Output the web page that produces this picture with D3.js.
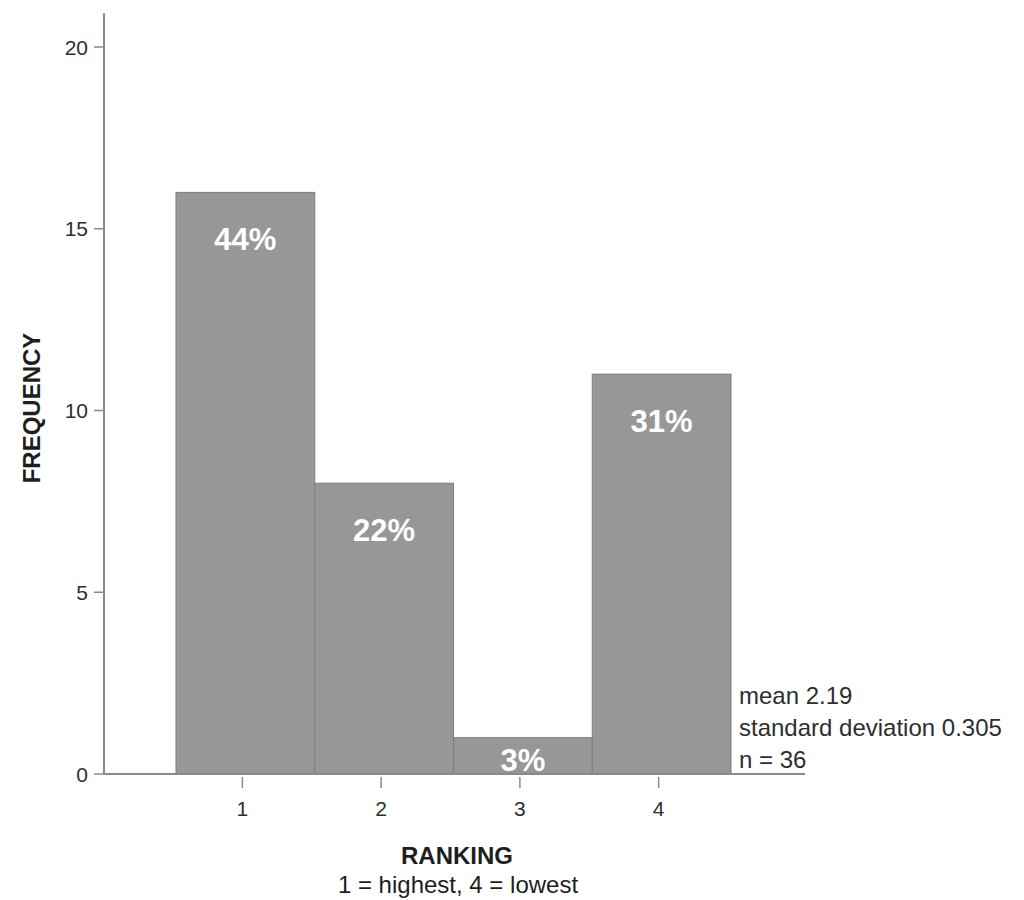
<!DOCTYPE html>
<html>
<head>
<meta charset="utf-8">
<script src="https://cdn.jsdelivr.net/npm/d3@7"></script>
<style>
  html, body { margin: 0; padding: 0; background: #fff; }
  svg { display: block; font-family: "Liberation Sans", Arial, sans-serif; }
</style>
</head>
<body>
<script>
const rankings = [1, 2, 3, 4];
const frequencies = [16, 8, 1, 11];
const percentLabels = ["44%", "22%", "3%", "31%"];
const yTicks = [0, 5, 10, 15, 20];
const statsLines = ["mean 2.19", "standard deviation 0.305", "n = 36"];

const W = 1024, H = 900;
const svg = d3.select("body").append("svg").attr("width", W).attr("height", H);

const x = d3.scaleLinear().domain([0.5, 4.5]).range([176, 731]);
const y = d3.scaleLinear().domain([0, 20]).range([774, 47]);

const axisColor = "#8a8a8a";
const textColor = "#2e2e2e";

// bars
svg.selectAll("rect.bar").data(rankings).enter().append("rect")
  .attr("class", "bar")
  .attr("x", d => x(d - 0.5))
  .attr("width", d => x(d + 0.5) - x(d - 0.5))
  .attr("y", (d, i) => y(frequencies[i]))
  .attr("height", (d, i) => y(0) - y(frequencies[i]))
  .attr("fill", "#979797")
  .attr("stroke", "#7d7d7d")
  .attr("stroke-width", 1);

// percent labels
svg.selectAll("text.pct").data(rankings).enter().append("text")
  .attr("class", "pct")
  .attr("x", d => x(d))
  .attr("y", (d, i) => Math.min(y(frequencies[i]) + 47, y(0) - 14))
  .attr("text-anchor", "middle")
  .attr("dominant-baseline", "central")
  .attr("fill", "#fff")
  .attr("font-size", 31)
  .attr("font-weight", "bold")
  .text((d, i) => percentLabels[i]);

// y axis
const yAxis = svg.append("g");
yAxis.append("line").attr("x1", 104).attr("x2", 104).attr("y1", 13).attr("y2", y(0))
  .attr("stroke", axisColor).attr("stroke-width", 2);
yAxis.selectAll("line.tick").data(yTicks).enter().append("line")
  .attr("x1", 94).attr("x2", 104).attr("y1", d => y(d)).attr("y2", d => y(d))
  .attr("stroke", axisColor).attr("stroke-width", 1.5);
yAxis.selectAll("text").data(yTicks).enter().append("text")
  .attr("x", 88).attr("y", d => y(d))
  .attr("text-anchor", "end").attr("dominant-baseline", "central")
  .attr("font-size", 21).attr("fill", textColor)
  .text(d => d);

// x axis
const xAxis = svg.append("g");
xAxis.append("line").attr("x1", 104).attr("x2", 805).attr("y1", y(0)).attr("y2", y(0))
  .attr("stroke", axisColor).attr("stroke-width", 2);
xAxis.selectAll("line.tick").data(rankings).enter().append("line")
  .attr("x1", d => x(d) - 3).attr("x2", d => x(d) - 3).attr("y1", 777).attr("y2", 788)
  .attr("stroke", axisColor).attr("stroke-width", 1.5);
xAxis.selectAll("text").data(rankings).enter().append("text")
  .attr("x", d => x(d) - 3).attr("y", 808)
  .attr("text-anchor", "middle").attr("dominant-baseline", "central")
  .attr("font-size", 21).attr("fill", textColor)
  .text(d => d);

// axis titles
svg.append("text")
  .attr("transform", "translate(31,408) rotate(-90)")
  .attr("text-anchor", "middle").attr("dominant-baseline", "central")
  .attr("font-size", 24).attr("font-weight", "bold").attr("fill", "#1e1e1e")
  .text("FREQUENCY");
svg.append("text")
  .attr("x", 457).attr("y", 855)
  .attr("text-anchor", "middle").attr("dominant-baseline", "central")
  .attr("font-size", 24).attr("font-weight", "bold").attr("fill", "#1e1e1e")
  .text("RANKING");
svg.append("text")
  .attr("x", 458).attr("y", 884)
  .attr("text-anchor", "middle").attr("dominant-baseline", "central")
  .attr("font-size", 24).attr("fill", "#1e1e1e")
  .text("1 = highest, 4 = lowest");

// stats
svg.selectAll("text.stat").data(statsLines).enter().append("text")
  .attr("class", "stat")
  .attr("x", 739).attr("y", (d, i) => 695 + i * 32)
  .attr("dominant-baseline", "central")
  .attr("font-size", 24).attr("fill", textColor)
  .text(d => d);
</script>
</body>
</html>
